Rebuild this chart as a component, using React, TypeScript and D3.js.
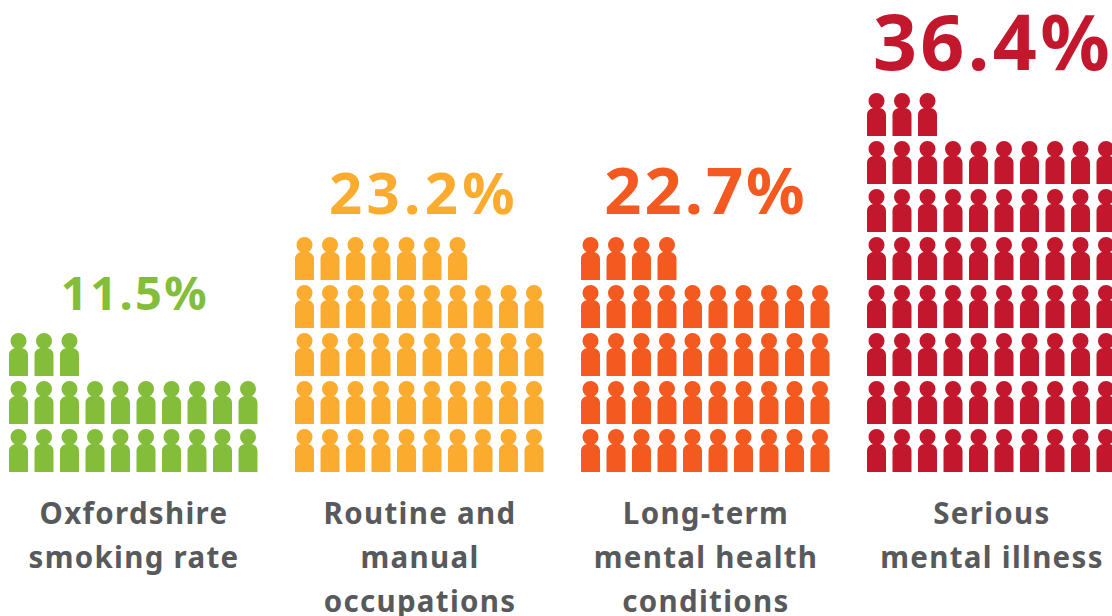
import React from "react";
import * as d3 from "d3";

// Smoking prevalence by group; one figure stands for half a percentage point.
const groups = ["Oxfordshire", "Routine", "LongTerm", "Serious"];
const rates = ["11.5%", "23.2%", "22.7%", "36.4%"];
const figureCounts = [23, 47, 44, 73];
const labelLines = [
  ["Oxfordshire", "smoking rate"],
  ["Routine and", "manual", "occupations"],
  ["Long-term", "mental health", "conditions"],
  ["Serious", "mental illness"],
];

const WIDTH = 1112;
const HEIGHT = 616;
const PER_ROW = 10;
const FONT = "'Noto Sans', sans-serif";
const colors = ["#84bd3a", "#fbab2e", "#f4591f", "#c3172e"];
const rateSizes = [47, 58, 65, 77];
const rateSpacing = [2.4, 4.4, 3, 3.4];
const rateBaselines = [310, 214, 214, 70];
const rateCenters = [135, 424, 706, 993];
const labelCenters = [134, 420, 706, 992];

const groupX = d3.scaleBand().domain(groups).range([9, 1153]).paddingInner(0).align(0);
const colX = d3.scaleLinear().domain([0, 1]).range([0, 25.5]);
const rowY = d3.scaleLinear().domain([0, 1]).range([429, 381]);

// A standing figure 19 wide and 43 tall, origin at its top-left corner.
const figurePath = (() => {
  const p = d3.path();
  p.arc(9.5, 8, 8, 0, Math.PI * 2);
  p.closePath();
  p.moveTo(6, 12);
  p.lineTo(13, 12);
  p.lineTo(13, 17);
  p.lineTo(6, 17);
  p.closePath();
  p.moveTo(0, 43);
  p.lineTo(0, 22);
  p.bezierCurveTo(0, 16.5, 5, 14.5, 9.5, 14.5);
  p.bezierCurveTo(14, 14.5, 19, 16.5, 19, 22);
  p.lineTo(19, 43);
  p.closePath();
  return p.toString();
})();

export default function App() {
  return (
    <svg
      width={WIDTH}
      height={HEIGHT}
      viewBox={`0 0 ${WIDTH} ${HEIGHT}`}
      style={{ position: "absolute", left: 0, top: 0, background: "#fff", fontFamily: FONT }}
    >
      {groups.map((g, gi) => (
        <g key={g}>
          <g fill={colors[gi]}>
            {d3.range(figureCounts[gi]).map((i) => (
              <path
                key={i}
                d={figurePath}
                transform={`translate(${groupX(g)! + colX(i % PER_ROW)},${rowY(Math.floor(i / PER_ROW))})`}
              />
            ))}
          </g>
          <text
            x={rateCenters[gi]}
            y={rateBaselines[gi]}
            textAnchor="middle"
            fontWeight={700}
            fontSize={rateSizes[gi]}
            letterSpacing={rateSpacing[gi]}
            fill={colors[gi]}
          >
            {rates[gi]}
          </text>
          <text textAnchor="middle" fontWeight={700} fontSize={29.5} letterSpacing={1.3} fill="#58595b">
            {labelLines[gi].map((line, li) => (
              <tspan key={li} x={labelCenters[gi]} y={524 + li * 44}>
                {line}
              </tspan>
            ))}
          </text>
        </g>
      ))}
    </svg>
  );
}
